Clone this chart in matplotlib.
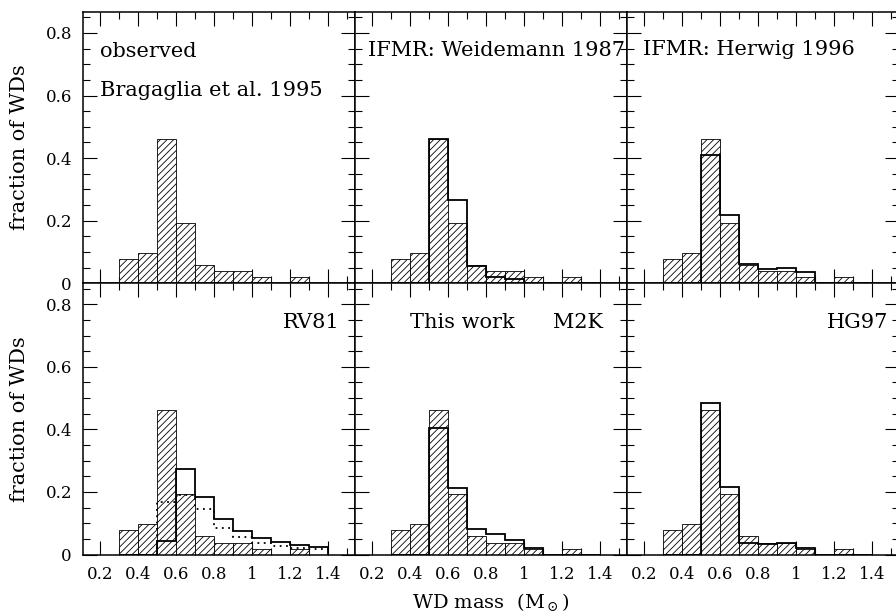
import numpy as np
import matplotlib
matplotlib.use("Agg")
import matplotlib.pyplot as plt
from matplotlib.ticker import MultipleLocator, FuncFormatter

# bin edges of the WD mass histograms (Msun)
edges = [0.3, 0.4, 0.5, 0.6, 0.7, 0.8, 0.9, 1.0, 1.1, 1.2, 1.3, 1.4]

# observed distribution, Bragaglia et al. 1995
observed = [0.077, 0.096, 0.462, 0.192, 0.058, 0.038, 0.038, 0.019, 0.0, 0.019, 0.0]

# model distributions
weidemann = [0, 0, 0.462, 0.266, 0.054, 0.021, 0.014, 0, 0, 0, 0]
herwig = [0, 0, 0.410, 0.218, 0.062, 0.046, 0.049, 0.035, 0, 0, 0]
rv81 = [0, 0, 0.043, 0.272, 0.183, 0.114, 0.074, 0.052, 0.039, 0.029, 0.023]
rv81_dotted = [0, 0, 0.168, 0.190, 0.146, 0.085, 0.055, 0.038, 0.028, 0.022, 0.017]
m2k = [0, 0, 0.403, 0.212, 0.082, 0.064, 0.046, 0.020, 0, 0, 0]
hg97 = [0, 0, 0.483, 0.217, 0.037, 0.034, 0.037, 0.020, 0, 0, 0]

plt.rcParams['font.family'] = ['DejaVu Serif']
plt.rcParams['mathtext.fontset'] = 'dejavuserif'
plt.rcParams['hatch.linewidth'] = 0.6

fig = plt.figure(figsize=(8.96, 6.15), dpi=100)

W, H = 896.0, 615.0
lefts = [83, 355, 627]
tops = [11.7, 283]
pw, ph = 272, 271.5

centers = (np.array(edges[:-1]) + np.array(edges[1:])) / 2
fmt = FuncFormatter(lambda v, p: f"{v:g}")

# (row, col): models, texts
panels = {
    (0, 0): ([], [("observed", 0.2, 0.724, 'left'), ("Bragaglia et al. 1995", 0.2, 0.60, 'left')]),
    (0, 1): ([(weidemann, '-')], [("IFMR: Weidemann 1987", 0.179, 0.726, 'left')]),
    (0, 2): ([(herwig, '-')], [("IFMR: Herwig 1996", 0.195, 0.728, 'left')]),
    (1, 0): ([(rv81, '-'), (rv81_dotted, (0, (1, 2.5)))], [("RV81", 1.458, 0.725, 'right')]),
    (1, 1): ([(m2k, '-')], [("This work", 0.4, 0.725, 'left'), ("M2K", 1.416, 0.725, 'right')]),
    (1, 2): ([(hg97, '-')], [("HG97", 1.484, 0.725, 'right')]),
}

for (r, c), (models, texts) in panels.items():
    ax = fig.add_axes([lefts[c] / W, 1 - (tops[r] + ph) / H, pw / W, ph / H])

    # observed hatched histogram
    ax.bar(centers, observed, width=0.1, facecolor='white', edgecolor='black',
           linewidth=0.6, hatch='/////', zorder=2)

    # model histograms
    for vals, ls in models:
        ax.stairs(vals, edges, baseline=0, fill=False, color='black',
                  linewidth=1.3, linestyle=ls, zorder=3)

    for s, x, y, ha in texts:
        ax.text(x, y, s, ha=ha, va='baseline', fontsize=15)

    ax.set_xlim(0.11, 1.54)
    ax.set_ylim(0, 0.868)
    ax.xaxis.set_major_locator(MultipleLocator(0.2))
    ax.xaxis.set_minor_locator(MultipleLocator(0.1))
    ax.yaxis.set_major_locator(MultipleLocator(0.2))
    ax.yaxis.set_minor_locator(MultipleLocator(0.05))
    ax.xaxis.set_major_formatter(fmt)
    ax.yaxis.set_major_formatter(fmt)
    ax.tick_params(which='both', direction='in', top=True, right=True, width=0.8)
    ax.tick_params(which='major', length=10, labelsize=12, pad=8)
    ax.tick_params(which='minor', length=5)
    for sp in ax.spines.values():
        sp.set_linewidth(1.1)

    if c != 0:
        ax.tick_params(labelleft=False)
    else:
        ax.set_ylabel("fraction of WDs", fontsize=15)
        ax.yaxis.set_label_coords(-0.2, 0.5)
    if r != 1:
        ax.tick_params(labelbottom=False)
    if r == 1 and c == 1:
        ax.set_xlabel(r"WD mass  (M$_\odot$)", fontsize=14)
        ax.xaxis.set_label_coords(0.5, -0.135)

fig.savefig("out.png", dpi=100)
